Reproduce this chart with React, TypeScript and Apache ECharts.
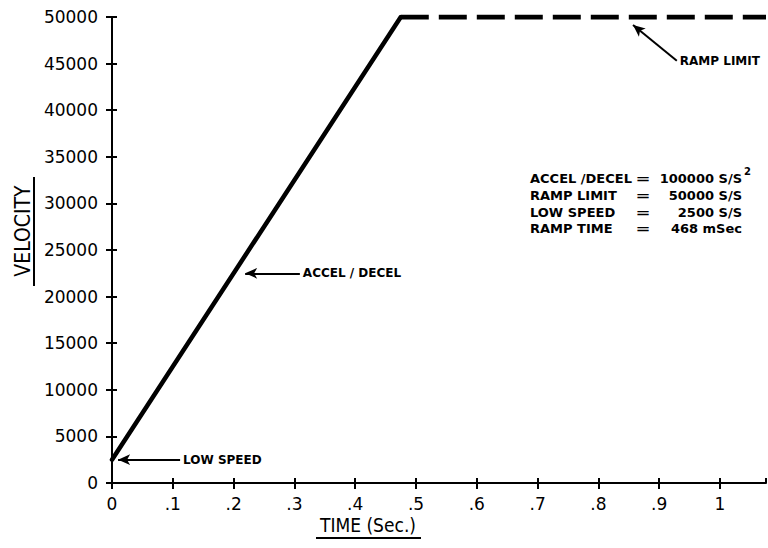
import React, { useEffect, useRef } from "react";
import * as echarts from "echarts";

// ---- data ----
const xTickValues = [0, 0.1, 0.2, 0.3, 0.4, 0.5, 0.6, 0.7, 0.8, 0.9, 1];
const xTickLabels = ["0", ".1", ".2", ".3", ".4", ".5", ".6", ".7", ".8", ".9", "1"];
const xMax = 1.0757;
const yTickLabels = ["0", "5000", "10000", "15000", "20000", "25000", "30000", "35000", "40000", "45000", "50000"];

const rampTimes = [0, 0.475];
const rampVelocities = [2500, 50000];
const limitTimes = [0.475, xMax];
const limitVelocities = [50000, 50000];

const annotationLabels = ["ACCEL / DECEL", "LOW SPEED", "RAMP LIMIT"];
const annotationTips = [[0.219, 22500], [0.01, 2500], [0.857, 49150]];
const annotationTails = [[0.309, 22500], [0.112, 2500], [0.929, 45300]];

const paramNames = ["ACCEL /DECEL", "RAMP LIMIT", "LOW SPEED", "RAMP TIME"];
const paramValues = ["100000 S/S", "50000 S/S", "2500 S/S", "468 mSec"];

const FONT = '"DejaVu Sans", Verdana, sans-serif';
const NARROW = '"Liberation Sans Narrow", "DejaVu Sans Condensed", "Liberation Sans", sans-serif';

export default function App() {
  const ref = useRef<HTMLDivElement>(null);
  useEffect(() => {
    if (!ref.current) return;
    const chart = echarts.init(ref.current, undefined, { renderer: "svg" });

    const labelFor = (v: number) => {
      const i = xTickValues.findIndex((t) => Math.abs(t - v) < 1e-6);
      return i >= 0 ? xTickLabels[i] : "";
    };

    const paramGraphics: any[] = [];
    const rowY = [178, 195, 212, 228];
    paramNames.forEach((n, i) => {
      paramGraphics.push({
        type: "text", x: 530, y: rowY[i],
        style: { text: n, font: `bold 13px ${FONT}`, lineHeight: 14, fill: "#000", textAlign: "left", textVerticalAlign: "middle" },
      });
      paramGraphics.push({
        type: "text", x: 643, y: rowY[i] + 1, scaleX: 1.5,
        style: { text: "=", font: `bold 12px ${FONT}`, lineHeight: 12, fill: "#000", textAlign: "center", textVerticalAlign: "middle" },
      });
      paramGraphics.push({
        type: "text", x: 742, y: rowY[i],
        style: { text: paramValues[i], font: `bold 13px ${FONT}`, lineHeight: 14, fill: "#000", textAlign: "right", textVerticalAlign: "middle" },
      });
    });
    paramGraphics.push({
      type: "text", x: 744, y: 171,
      style: { text: "2", font: `bold 10px ${FONT}`, lineHeight: 10, fill: "#000", textAlign: "left", textVerticalAlign: "middle" },
    });

    chart.setOption({
      animation: false,
      backgroundColor: "#fff",
      grid: { left: 112, right: 2, top: 17, bottom: 65, containLabel: false },
      xAxis: [
        {
          type: "value", min: 0, max: xMax, interval: 0.1,
          axisLine: { show: true, lineStyle: { color: "#000", width: 2 } },
          axisTick: { show: true, length: 6, lineStyle: { color: "#000", width: 2 } },
          splitLine: { show: false },
          axisLabel: {
            margin: 13, color: "#000", fontSize: 17, lineHeight: 16, fontFamily: FONT,
            formatter: (v: number) => labelFor(v),
            showMaxLabel: false,
          },
        },
        {
          type: "value", min: 0, max: xMax, interval: 0.1, position: "bottom",
          axisLine: { show: false },
          axisTick: { show: true, inside: true, length: 5, lineStyle: { color: "#000", width: 2 } },
          axisLabel: { show: false },
          splitLine: { show: false },
        },
      ],
      yAxis: [
        {
          type: "value", min: 0, max: 50000, interval: 5000,
          axisLine: { show: true, lineStyle: { color: "#000", width: 2 } },
          axisTick: { show: true, length: 6, lineStyle: { color: "#000", width: 2 } },
          splitLine: { show: false },
          axisLabel: {
            margin: 14, color: "#000", fontSize: 17, fontFamily: FONT,
            formatter: (v: number) => yTickLabels[Math.round(v / 5000)] ?? "",
          },
        },
        {
          type: "value", min: 0, max: 50000, interval: 5000, position: "left",
          axisLine: { show: false },
          axisTick: { show: true, inside: true, length: 5, lineStyle: { color: "#000", width: 2 } },
          axisLabel: { show: false },
          splitLine: { show: false },
        },
      ],
      series: [
        {
          type: "line",
          data: rampTimes.map((t, i) => [t, rampVelocities[i]]),
          showSymbol: false, symbol: "none",
          lineStyle: { color: "#000", width: 4.5, cap: "round" },
          markLine: {
            silent: true,
            symbol: ["arrow", "none"],
            symbolSize: [8, 12],
            label: { show: false },
            lineStyle: { color: "#000", width: 2, type: "solid" },
            data: annotationLabels.map((n, i) => [
              { coord: annotationTips[i], name: n },
              { coord: annotationTails[i] },
            ]),
          },
          markPoint: {
            silent: true,
            symbol: "circle",
            symbolSize: 0,
            label: {
              show: true, position: "right", distance: 3, color: "#000",
              fontSize: 12, fontWeight: "bold", fontFamily: FONT,
              formatter: (p: any) => p.name,
            },
            data: annotationLabels.map((n, i) => ({ coord: annotationTails[i], name: n })),
          },
        },
        {
          type: "line",
          data: limitTimes.map((t, i) => [t, limitVelocities[i]]),
          showSymbol: false, symbol: "none",
          lineStyle: { color: "#000", width: 5, type: [28, 10], cap: "butt" },
        },
      ],
      graphic: [
        {
          type: "text", x: 23, y: 231, rotation: Math.PI / 2,
          style: { text: "VELOCITY", font: `21px ${NARROW}`, fill: "#000", textAlign: "center", textVerticalAlign: "middle" },
        },
        { type: "line", shape: { x1: 34, y1: 177, x2: 34, y2: 286 }, style: { stroke: "#000", lineWidth: 2 } },
        {
          type: "text", x: 368, y: 525,
          style: { text: "TIME (Sec.)", font: `19px ${NARROW}`, lineHeight: 19, fill: "#000", textAlign: "center", textVerticalAlign: "middle" },
        },
        { type: "line", shape: { x1: 316, y1: 538, x2: 421, y2: 538 }, style: { stroke: "#000", lineWidth: 2 } },
        ...paramGraphics,
      ],
    });
    return () => chart.dispose();
  }, []);
  return <div ref={ref} style={{ width: 768, height: 548, position: "absolute", left: 0, top: 0 }} />;
}
